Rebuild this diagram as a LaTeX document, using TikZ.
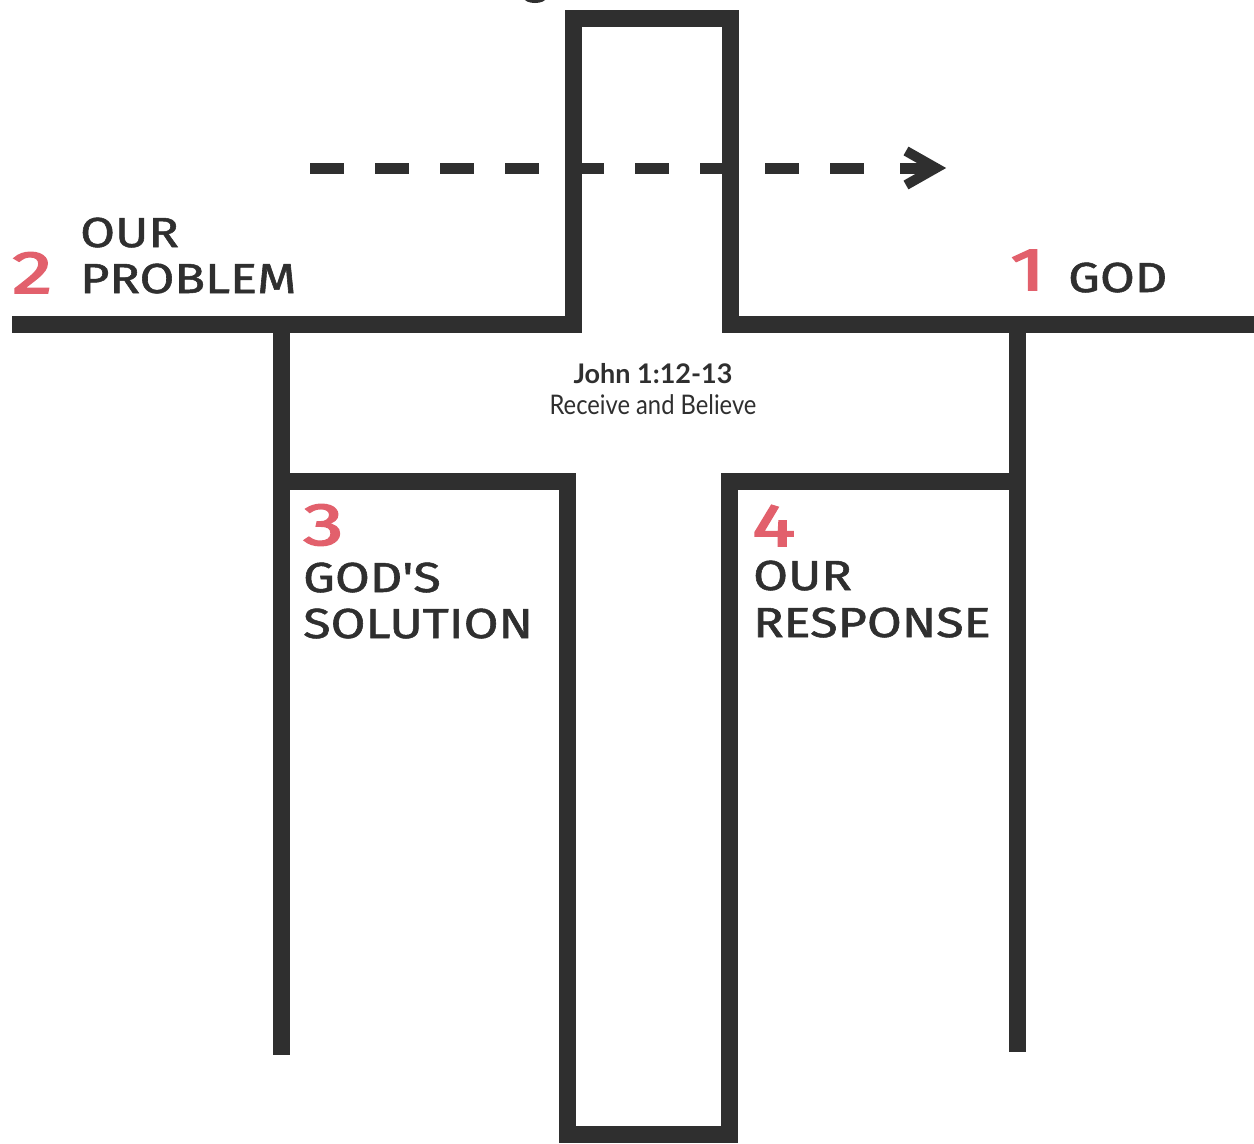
\documentclass[tikz,border=0pt]{standalone}
\usepackage{fontspec}
\setmainfont{Fira Sans}
\newfontfamily\handfont[FakeBold=1.2]{Fira Sans}
\newfontfamily\numfont[FakeBold=2.5]{Fira Sans}
\newfontfamily\labelfont{Lato}
\definecolor{ink}{HTML}{2F2F2F}
\definecolor{numred}{HTML}{E2606C}
\newcommand{\hw}[1]{\scalebox{1.2}[1]{#1}}
\newcommand{\nw}[1]{\scalebox{1.35}[1]{#1}}
\begin{document}
\begin{tikzpicture}[x=1pt,y=-1pt,
  wall/.style={draw=ink,line width=17pt,line join=miter,line cap=butt},
  hand/.style={anchor=base west,inner sep=0pt,text=ink,font=\handfont\fontsize{42}{42}\selectfont},
  num/.style={anchor=base west,inner sep=0pt,text=numred,text depth=0pt,font=\numfont\fontsize{60}{60}\selectfont},
  verse/.style={inner sep=0pt,text=ink,font=\labelfont\fontsize{27}{27}\selectfont}]
\useasboundingbox (0,0) rectangle (1254,1144);
\fill[white] (0,0) rectangle (1254,1144);
% tiny cut-off mark at the top edge
\begin{scope}
\clip (0,0) rectangle (1254,1144);
\fill[ink] (535,-2) ellipse (11pt and 5pt);
\end{scope}
% coordinates of the cross outline
\coordinate (L0) at (12,324);
\coordinate (CTL) at (573,324);
\coordinate (CTLt) at (573,18);
\coordinate (CTRt) at (730,18);
\coordinate (CTR) at (730,324);
\coordinate (R0) at (1254,324);
\coordinate (LVt) at (281,324);
\coordinate (LVb) at (281,1055);
\coordinate (LH) at (281,481);
\coordinate (CBL) at (567,481);
\coordinate (CBLb) at (567,1134);
\coordinate (CBRb) at (729,1134);
\coordinate (CBR) at (729,481);
\coordinate (RH) at (1017,481);
\coordinate (RVt) at (1017,324);
\coordinate (RVb) at (1017,1052);
% walls
\draw[wall] (L0) -- (CTL) -- (CTLt) -- (CTRt) -- (CTR) -- (R0);
\draw[wall] (LVt) -- (LVb);
\draw[wall] (RVt) -- (RVb);
\draw[wall] (LH) -- (CBL) -- (CBLb) -- (CBRb) -- (CBR) -- (RH);
% dashed arrow
\coordinate (A0) at (310,168);
\coordinate (A1) at (867,168);
\coordinate (A2) at (900,168);
\coordinate (A3) at (936,168);
\draw[ink,line width=11pt,dash pattern=on 34pt off 31pt] (A0) -- (A1);
\draw[ink,line width=11pt] (A2) -- ([xshift=-4pt]A3);
\draw[ink,line width=10pt,line join=miter] ([shift={(-30,-17)}]A3) -- (A3) -- ([shift={(-30,17)}]A3);
% labels
\node[num] (n2) at (12,293) {\nw{2}};
\node[hand] (t2a) at (80,247) {\hw{OUR}};
\node[hand] (t2b) at (80,293) {\hw{PROBLEM}};
\node[num] (n1) at (1010,290) {\nw{1}};
\node[hand] (t1) at (1068,292) {\hw{GOD}};
\node[num] (n3) at (303,545) {\nw{3}};
\node[hand] (t3a) at (303,592) {\hw{GOD'S}};
\node[hand] (t3b) at (303,638) {\hw{SOLUTION}};
\node[num] (n4) at (752,546) {\nw{4}};
\node[hand] (t4a) at (753,590) {\hw{OUR}};
\node[hand] (t4b) at (753,637) {\hw{RESPONSE}};
\node[verse,anchor=base,font=\labelfont\bfseries\fontsize{27}{27}\selectfont] (v1) at (653,383) {John 1:12-13};
\node[verse,anchor=base] (v2) at (653,414) {\scalebox{0.88}[1]{Receive and Believe}};
\end{tikzpicture}
\end{document}
